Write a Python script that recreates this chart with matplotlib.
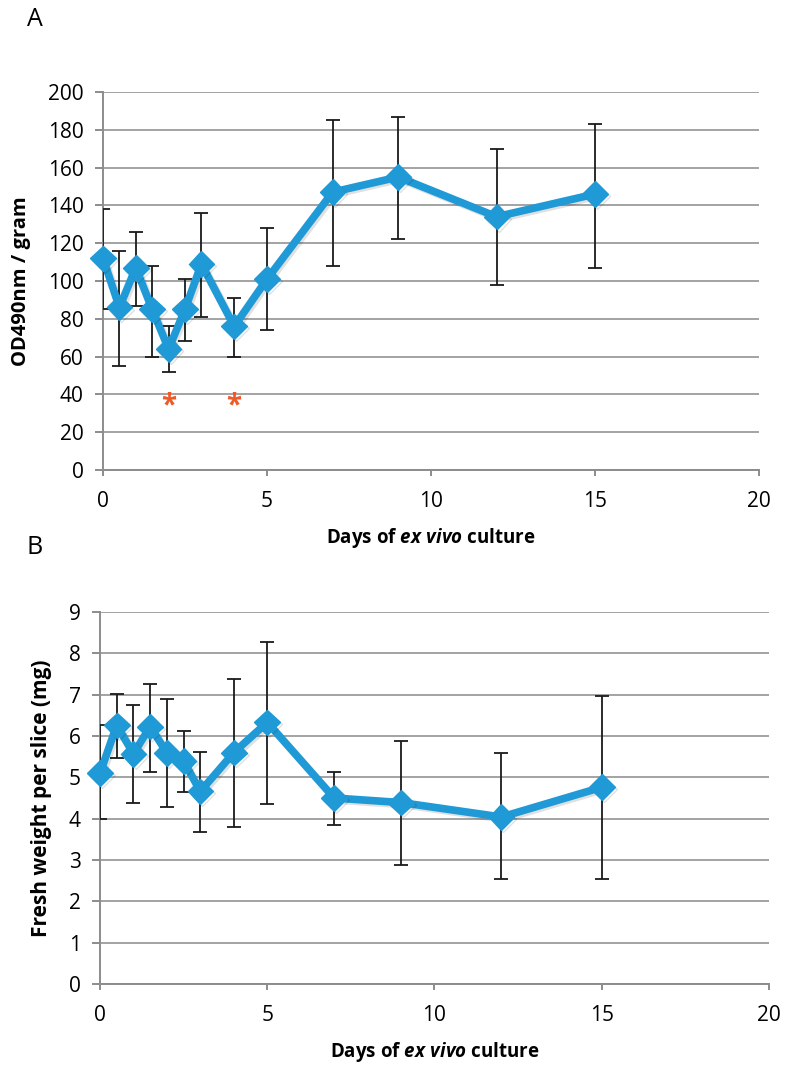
import numpy as np
import matplotlib.pyplot as plt
import matplotlib as mpl
import matplotlib.patheffects as pe

# Panel A: OD490nm / gram
daysA = [0, 0.5, 1, 1.5, 2, 2.5, 3, 4, 5, 7, 9, 12, 15]
odA = [112, 86, 107, 85, 64, 85, 109, 76, 101, 147, 155, 134, 146]
odA_lo = [85, 55, 87, 60, 52, 68, 81, 60, 74, 108, 122, 98, 107]
odA_hi = [138, 116, 126, 108, 76, 101, 136, 91, 128, 185, 187, 170, 183]
starDays = [2, 4]

# Panel B: fresh weight per slice (mg)
daysB = [0, 0.5, 1, 1.5, 2, 2.5, 3, 4, 5, 7, 9, 12, 15]
wB = [5.1, 6.26, 5.57, 6.23, 5.59, 5.39, 4.66, 5.6, 6.33, 4.5, 4.39, 4.04, 4.76]
wB_lo = [4.0, 5.48, 4.38, 5.13, 4.29, 4.65, 3.68, 3.81, 4.36, 3.85, 2.87, 2.54, 2.54]
wB_hi = [6.26, 7.02, 6.76, 7.27, 6.9, 6.11, 5.62, 7.38, 8.27, 5.13, 5.89, 5.58, 6.98]

lineColor = '#1f9ad6'
gridColor = '#a3a3a3'
axisColor = '#8c8c8c'

plt.rcParams['font.family'] = ['Open Sans', 'DejaVu Sans']
plt.rcParams['font.size'] = 15
# bold italic for "ex vivo" inside the bold labels
plt.rcParams['mathtext.fontset'] = 'custom'
plt.rcParams['mathtext.it'] = 'Open Sans:bold:italic'
plt.rcParams['mathtext.rm'] = 'Open Sans:bold'

xlab = 'Days of $\\it{ex\\ vivo}$ culture'


def styleAxes(ax, ymax, ystep):
     ax.set_xlim(0, 20)
     ax.set_ylim(0, ymax)
     ax.set_xticks([0, 5, 10, 15, 20])
     ax.set_yticks(np.arange(0, ymax + ystep / 2, ystep))
     ax.yaxis.grid(True, color=gridColor, linewidth=1.4)
     ax.set_axisbelow(True)
     for s in ['top', 'right']:
          ax.spines[s].set_visible(False)
     for s in ['left', 'bottom']:
          ax.spines[s].set_color(axisColor)
          ax.spines[s].set_linewidth(1.4)
     ax.tick_params(axis='y', direction='out', length=6, width=1.4, color=axisColor, pad=8, labelsize=15)
     ax.tick_params(axis='x', direction='out', length=4, width=1.4, color=axisColor, pad=11, labelsize=15)


def drawSeries(ax, x, y, lo, hi):
     y = np.array(y)
     yerr = [y - np.array(lo), np.array(hi) - y]
     ax.errorbar(x, y, yerr=yerr, fmt='none', ecolor='#1a1a1a', elinewidth=1.3,
                 capsize=5, capthick=1.3, zorder=3)
     shadow = [pe.SimpleLineShadow(offset=(1.5, -1.5), alpha=0.12, shadow_color='k'), pe.Normal()]
     ax.plot(x, y, color=lineColor, linewidth=5.5, marker='D', markersize=13,
             markerfacecolor=lineColor, markeredgecolor=lineColor,
             solid_joinstyle='miter', clip_on=False, zorder=4, path_effects=shadow)


fig = plt.figure(figsize=(7.85, 10.67), dpi=100)

# ---- A ----
axA = fig.add_axes([0.1312, 0.5595, 0.8357, 0.3543])
styleAxes(axA, 200, 20)
drawSeries(axA, daysA, odA, odA_lo, odA_hi)
for d in starDays:
     axA.text(d, 34, '*', color='#f05a28', fontsize=20, ha='center', va='center', fontweight='bold')
axA.set_ylabel('OD490nm / gram', fontweight='bold', fontsize=14.5, labelpad=12)
axA.set_xlabel(xlab, fontweight='bold', fontsize=13.5, labelpad=10)
fig.text(35 / 785, 1 - 20 / 1067, 'A', fontsize=18, ha='center', va='center')

# ---- B ----
axB = fig.add_axes([0.1274, 0.0778, 0.8522, 0.3486])
styleAxes(axB, 9, 1)
drawSeries(axB, daysB, wB, wB_lo, wB_hi)
axB.set_ylabel('Fresh weight per slice (mg)', fontweight='bold', fontsize=15, labelpad=12)
axB.set_xlabel(xlab, fontweight='bold', fontsize=13.5, labelpad=10)
fig.text(35 / 785, 1 - 548 / 1067, 'B', fontsize=18, ha='center', va='center')

fig.savefig('out.png', dpi=100)
